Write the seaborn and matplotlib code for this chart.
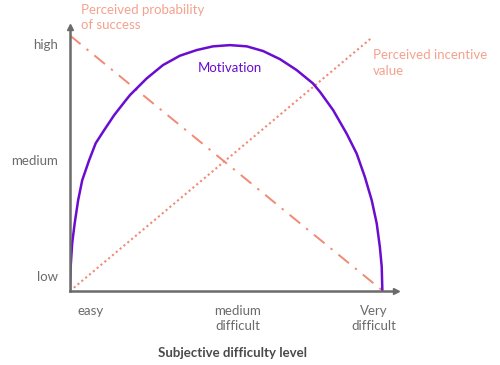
import matplotlib
matplotlib.use("Agg")
import matplotlib.pyplot as plt
import seaborn as sns

# Motivation curve (x: difficulty 0..1, y: level 0..1)
motivation_x = [0.0, 0.002, 0.007, 0.015, 0.026, 0.039, 0.061, 0.082, 0.109, 0.141, 0.178,
                0.192, 0.245, 0.297, 0.351, 0.405, 0.457, 0.511, 0.565, 0.617, 0.671,
                0.724, 0.776, 0.799, 0.841, 0.884, 0.916, 0.942, 0.964, 0.980, 0.990,
                0.996, 0.998]
motivation_y = [0.0, 0.097, 0.194, 0.275, 0.368, 0.449, 0.530, 0.599, 0.652, 0.713, 0.773,
                0.795, 0.862, 0.916, 0.954, 0.977, 0.992, 0.997, 0.992, 0.973, 0.940,
                0.896, 0.842, 0.807, 0.733, 0.638, 0.557, 0.463, 0.368, 0.274, 0.179,
                0.098, 0.0]

# straight lines
probability_x = [0.0, 1.0]
probability_y = [1.036, 0.0]
incentive_x = [0.0, 0.965]
incentive_y = [0.0, 1.028]

x_ticks = [0.065, 0.535, 0.97]
x_labels = ["easy", "medium\ndifficult", "Very\ndifficult"]
y_ticks = [0.06, 0.53, 1.0]
y_labels = ["low", "medium", "high"]

sns.set_style("white")
plt.rcParams["font.family"] = ["Lato", "DejaVu Sans"]

purple = "#6a0dd0"
salmon = "#f08a74"
salmon_txt = "#f4a28e"
grey = "#6b6b6b"
fs = 9.5

fig = plt.figure(figsize=(5, 3.65), dpi=100)
ax = fig.add_axes([0.14, 0.2027, 0.651, 0.723])

sns.lineplot(x=probability_x, y=probability_y, ax=ax, color=salmon, lw=1.4,
             linestyle=(0, (7, 4, 1.2, 4)), sort=False)
sns.lineplot(x=incentive_x, y=incentive_y, ax=ax, color=salmon, lw=1.5,
             linestyle=(0, (1, 1.4)), sort=False)
sns.lineplot(x=motivation_x, y=motivation_y, ax=ax, color=purple, lw=1.8, sort=False)

ax.set_xlim(0, 1.04)
ax.set_ylim(0, 1.07)

for s in ["top", "right"]:
    ax.spines[s].set_visible(False)
for s in ["left", "bottom"]:
    ax.spines[s].set_color(grey)
    ax.spines[s].set_linewidth(1.8)

# arrow heads
ax.plot(1, 0, ">", transform=ax.transAxes, clip_on=False, color=grey, ms=4)
ax.plot(0, 1, "^", transform=ax.transAxes, clip_on=False, color=grey, ms=4)

ax.set_xticks(x_ticks)
ax.set_xticklabels(x_labels, color=grey, fontsize=fs, linespacing=1.3)
ax.set_yticks(y_ticks)
ax.set_yticklabels(y_labels, color=grey, fontsize=fs)
ax.tick_params(axis="both", length=0)
ax.tick_params(axis="x", pad=10)
ax.tick_params(axis="y", pad=9)

ax.set_xlabel("Subjective difficulty level", fontsize=fs, fontweight="bold",
              color="#4a4a4a", labelpad=11)

ax.text(0.035, 1.165, "Perceived probability\nof success", color=salmon_txt,
        fontsize=fs, va="top", ha="left", linespacing=1.35)
ax.text(0.968, 0.98, "Perceived incentive\nvalue", color=salmon_txt,
        fontsize=fs, va="top", ha="left", linespacing=1.35)
ax.text(0.51, 0.905, "Motivation", color=purple, fontsize=fs, ha="center", va="center")

fig.savefig("out.png", dpi=100)
